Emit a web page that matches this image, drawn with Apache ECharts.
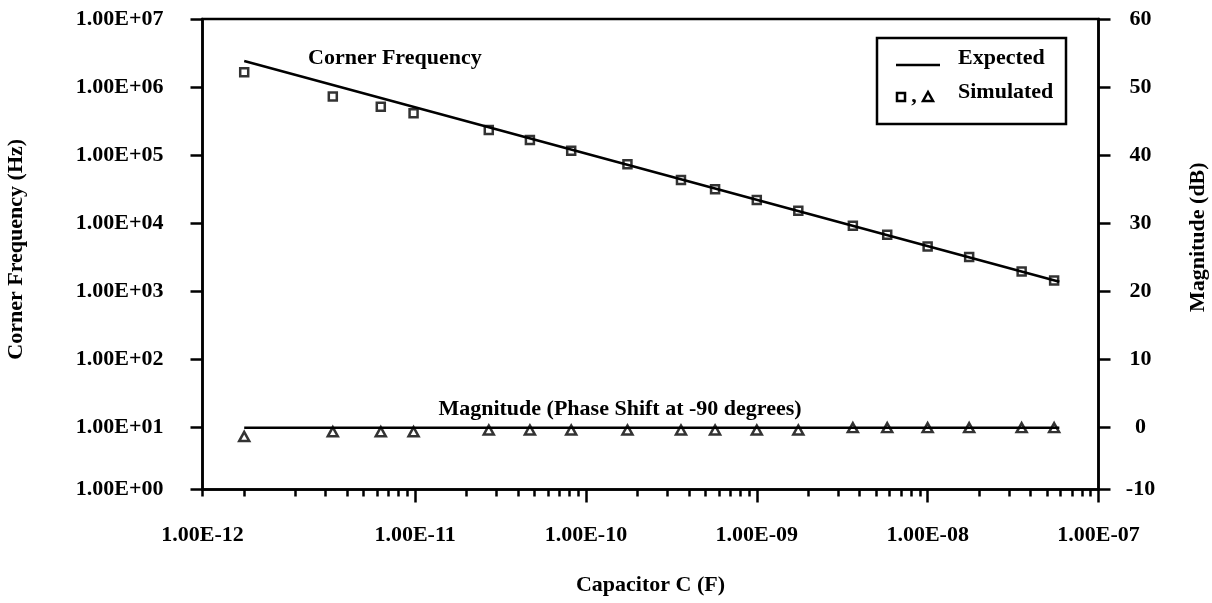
<!DOCTYPE html>
<html>
<head>
<meta charset="utf-8">
<title>Corner Frequency and Magnitude vs Capacitor</title>
<script src="https://cdn.jsdelivr.net/npm/echarts@6/dist/echarts.min.js"></script>
<style>
  html, body { margin: 0; padding: 0; background: #fff; }
  #chart { width: 1212px; height: 603px; }
</style>
</head>
<body>
<div id="chart"></div>
<script>
// capacitor values (F), one per simulated point
const capacitance = [1.0e-12, 3.3e-12, 6.3e-12, 9.8e-12, 2.7e-11, 4.7e-11, 8.2e-11, 1.75e-10, 3.6e-10,
  5.7e-10, 1.0e-9, 1.75e-9, 3.65e-9, 5.8e-9, 1.0e-8, 1.75e-8, 3.55e-8, 5.5e-8];
// simulated corner frequency (Hz), squares
const cornerFreq = [1.65e6, 7.3e5, 5.15e5, 4.12e5, 2.34e5, 1.67e5, 1.16e5, 7.35e4, 4.32e4,
  3.16e4, 2.2e4, 1.53e4, 9.2e3, 6.8e3, 4.54e3, 3.2e3, 1.95e3, 1.44e3];
// simulated magnitude at -90 degrees phase shift (dB), triangles
const magnitude = [-1.3, -0.6, -0.6, -0.6, -0.35, -0.35, -0.35, -0.35, -0.35,
  -0.35, -0.35, -0.35, 0, 0, 0, 0, 0, 0];
// expected lines, end points as drawn
const expectedCorner = [[1.0e-12, 2.42e6], [5.9e-8, 1.38e3]];
const expectedMagnitude = [[1.0e-12, 0], [5.9e-8, 0]];

// axis ranges (the plotted box is cut a bit past the lowest labels)
const xMin = 5.7e-13, xMax = 1e-7;
const yMin = 1.23, yMax = 1e7;
const dbMin = -9.08, dbMax = 60;

const xLogMin = Math.log10(xMin);
const xLabelValues = [xLogMin, -11, -10, -9, -8, -7];
const xMajorTicks = [-11, -10, -9, -8, -7];
const xMinorTicks = [xLogMin, -12];
for (let d = -12; d <= -8; d++) {
  for (let k = 2; k <= 9; k++) xMinorTicks.push(d + Math.log10(k));
}

const font = { fontFamily: "Liberation Serif", fontWeight: "bold", fontSize: 22, color: "#000" };
const fontCss = 'bold 22px "Liberation Serif"';
const black = { color: "#000", width: 2.5 };

function sci(e) {
  return "1.00E" + (e < 0 ? "-" : "+") + String(Math.abs(e)).padStart(2, "0");
}

const chart = echarts.init(document.getElementById("chart"));

chart.setOption({
  animation: false,
  backgroundColor: "#fff",
  grid: {
    left: 202.5, right: 113.5, top: 19, bottom: 113.5,
    outerBoundsMode: "none",
    show: true, borderColor: "#000", borderWidth: 2.5
  },
  xAxis: [
    {
      type: "log", min: xMin, max: xMax, position: "bottom",
      axisLine: { onZero: false, lineStyle: black },
      axisTick: { show: false },
      axisLabel: { show: false },
      splitLine: { show: false }
    },
    {
      type: "value", min: xLogMin, max: -7, position: "bottom",
      axisLine: { show: false, onZero: false },
      splitLine: { show: false },
      axisTick: { show: true, customValues: xMajorTicks, length: 13, lineStyle: black },
      axisLabel: { customValues: xLabelValues, formatter: v => sci(Math.round(v)), margin: 35, ...font },
      name: "Capacitor C (F)", nameLocation: "middle", nameGap: 85, nameTextStyle: font
    },
    {
      type: "value", min: xLogMin, max: -7, position: "bottom",
      axisLine: { show: false, onZero: false },
      splitLine: { show: false },
      axisLabel: { show: false },
      axisTick: { show: true, customValues: xMinorTicks, length: 7, lineStyle: black }
    }
  ],
  yAxis: [
    {
      type: "log", min: yMin, max: yMax, position: "left",
      axisLine: { onZero: false, lineStyle: black },
      axisTick: { length: 12, lineStyle: black },
      axisLabel: { formatter: v => sci(Math.round(Math.log10(v))), margin: 39, ...font },
      splitLine: { show: false },
      name: "Corner Frequency (Hz)", nameLocation: "middle", nameRotate: 90, nameGap: 175,
      nameTextStyle: { ...font, padding: [0, 0, 0, 10] }
    },
    {
      type: "value", min: dbMin, max: dbMax, splitNumber: 7, position: "right",
      axisLine: { onZero: false, lineStyle: black },
      axisTick: { length: 12, lineStyle: black },
      axisLabel: { formatter: v => String(Math.round(v / 10) * 10), margin: 42, align: "center", ...font },
      splitLine: { show: false },
      name: "Magnitude (dB)", nameLocation: "middle", nameRotate: 90, nameGap: 89,
      nameTextStyle: { ...font, padding: [0, 0, 0, 34] }
    }
  ],
  series: [
    {
      name: "Expected", type: "line", xAxisIndex: 0, yAxisIndex: 0,
      data: expectedCorner, symbol: "none",
      lineStyle: { color: "#000", width: 2.5 }
    },
    {
      name: "Expected magnitude", type: "line", xAxisIndex: 0, yAxisIndex: 1,
      data: expectedMagnitude, symbol: "none",
      lineStyle: { color: "#000", width: 2.5 }
    },
    {
      name: "Simulated", type: "scatter", xAxisIndex: 0, yAxisIndex: 0,
      data: capacitance.map((c, i) => [c, cornerFreq[i]]),
      symbol: "rect", symbolSize: 8,
      itemStyle: { color: "rgba(0,0,0,0)", borderColor: "#000", borderWidth: 2.5 }
    },
    {
      name: "Simulated magnitude", type: "scatter", xAxisIndex: 0, yAxisIndex: 1,
      data: capacitance.map((c, i) => [c, magnitude[i]]),
      symbol: "triangle", symbolSize: [10, 9],
      itemStyle: { color: "#fff", borderColor: "#000", borderWidth: 2.5 }
    }
  ],
  graphic: [
    { type: "text", x: 308, y: 58, style: { text: "Corner Frequency", font: fontCss, fill: "#000", verticalAlign: "middle" } },
    { type: "text", x: 620, y: 409, style: { text: "Magnitude (Phase Shift at -90 degrees)", font: fontCss, fill: "#000", align: "center", verticalAlign: "middle" } },
    // legend box
    { type: "rect", shape: { x: 877, y: 38, width: 189, height: 86 }, style: { fill: "#fff", stroke: "#000", lineWidth: 2.5 } },
    { type: "line", shape: { x1: 896, y1: 65, x2: 940, y2: 65 }, style: { stroke: "#000", lineWidth: 2.5 } },
    { type: "text", x: 958, y: 58, style: { text: "Expected", font: fontCss, fill: "#000", verticalAlign: "middle" } },
    { type: "text", x: 958, y: 92, style: { text: "Simulated", font: fontCss, fill: "#000", verticalAlign: "middle" } },
    { type: "rect", shape: { x: 897, y: 93, width: 8, height: 8 }, style: { fill: "none", stroke: "#000", lineWidth: 2.5 } },
    { type: "text", x: 914, y: 96, style: { text: ",", font: fontCss, fill: "#000", align: "center", verticalAlign: "middle" } },
    { type: "polygon", shape: { points: [[928, 92], [923, 101], [933, 101]] }, style: { fill: "#fff", stroke: "#000", lineWidth: 2.5 } }
  ]
});

window.addEventListener("resize", () => chart.resize());
</script>
</body>
</html>
